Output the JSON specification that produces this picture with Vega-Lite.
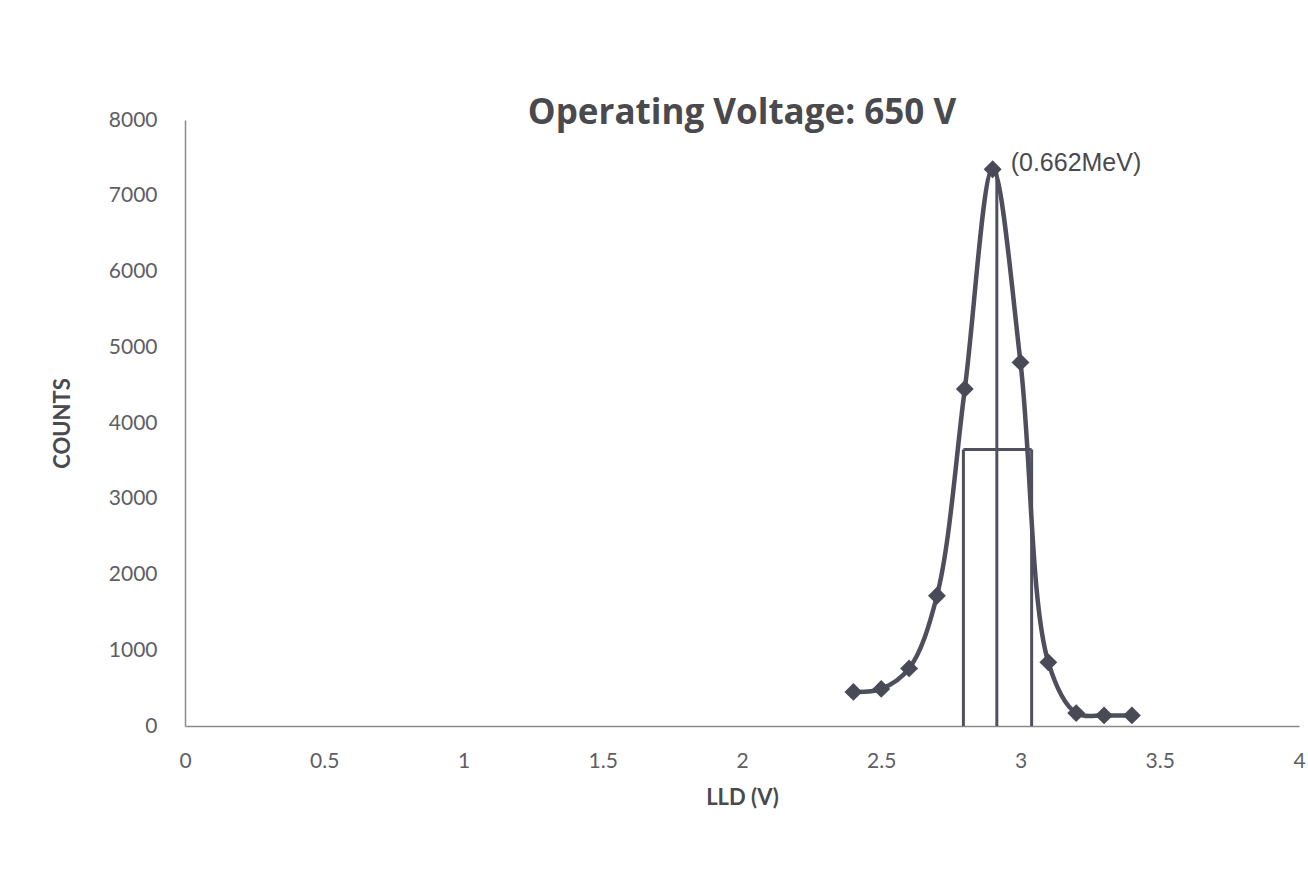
{
  "$schema": "https://vega.github.io/schema/vega-lite/v6.json",
  "width": 1114,
  "height": 606,
  "autosize": "none",
  "padding": {"left": 185, "top": 120, "right": 9, "bottom": 145},
  "background": "white",
  "config": {
    "view": {"stroke": null},
    "font": "Lato",
    "axis": {
      "grid": false,
      "ticks": false,
      "domainColor": "#8a8a8a",
      "domainWidth": 1.5,
      "labelFont": "Lato",
      "labelFontSize": 21,
      "labelColor": "#5e5e64",
      "titleFont": "Lato",
      "titleFontSize": 22,
      "titleFontWeight": "bold",
      "titleColor": "#4a4a4e"
    }
  },
  "title": {
    "text": "Operating Voltage: 650 V",
    "font": "Open Sans",
    "fontSize": 35,
    "fontWeight": "bold",
    "color": "#4a4a4e",
    "anchor": "middle",
    "offset": -22
  },
  "datasets": {
    "counts": [
      {"lld": 2.4, "counts": 450},
      {"lld": 2.5, "counts": 490},
      {"lld": 2.6, "counts": 760},
      {"lld": 2.7, "counts": 1720},
      {"lld": 2.8, "counts": 4450},
      {"lld": 2.9, "counts": 7350},
      {"lld": 3.0, "counts": 4800},
      {"lld": 3.1, "counts": 840},
      {"lld": 3.2, "counts": 170},
      {"lld": 3.3, "counts": 140},
      {"lld": 3.4, "counts": 140}
    ],
    "fwhm": [
      {"x": 2.795, "x2": 2.795, "y": 0, "y2": 3650},
      {"x": 2.915, "x2": 2.915, "y": 0, "y2": 7350},
      {"x": 3.04, "x2": 3.04, "y": 0, "y2": 3650},
      {"x": 2.795, "x2": 3.04, "y": 3650, "y2": 3650}
    ],
    "label": [
      {"lld": 2.9, "counts": 7350, "text": "(0.662MeV)"}
    ]
  },
  "layer": [
    {
      "data": {"name": "fwhm"},
      "mark": {"type": "rule", "color": "#50505e", "strokeWidth": 3},
      "encoding": {
        "x": {
          "field": "x", "type": "quantitative",
          "scale": {"domain": [0, 4], "nice": false},
          "axis": {"title": "LLD (V)", "values": [0, 0.5, 1, 1.5, 2, 2.5, 3, 3.5, 4], "format": "~g", "labelPadding": 24, "titlePadding": 16, "labelFlush": false}
        },
        "x2": {"field": "x2"},
        "y": {
          "field": "y", "type": "quantitative",
          "scale": {"domain": [0, 8000], "nice": false},
          "axis": {"title": "COUNTS", "values": [0, 1000, 2000, 3000, 4000, 5000, 6000, 7000, 8000], "format": "d", "labelPadding": 28, "titlePadding": 34}
        },
        "y2": {"field": "y2"}
      }
    },
    {
      "data": {"name": "counts"},
      "mark": {"type": "line", "interpolate": "catmull-rom", "color": "#4e4e5c", "strokeWidth": 4.5},
      "encoding": {
        "x": {"field": "lld", "type": "quantitative"},
        "y": {"field": "counts", "type": "quantitative"}
      }
    },
    {
      "data": {"name": "counts"},
      "mark": {"type": "point", "shape": "diamond", "filled": true, "color": "#4a4a56", "size": 320, "opacity": 1},
      "encoding": {
        "x": {"field": "lld", "type": "quantitative"},
        "y": {"field": "counts", "type": "quantitative"}
      }
    },
    {
      "data": {"name": "label"},
      "mark": {"type": "text", "align": "left", "baseline": "middle", "dx": 18, "dy": -6, "font": "Liberation Sans", "fontSize": 25, "color": "#4a4a4e"},
      "encoding": {
        "x": {"field": "lld", "type": "quantitative"},
        "y": {"field": "counts", "type": "quantitative"},
        "text": {"field": "text"}
      }
    }
  ]
}
